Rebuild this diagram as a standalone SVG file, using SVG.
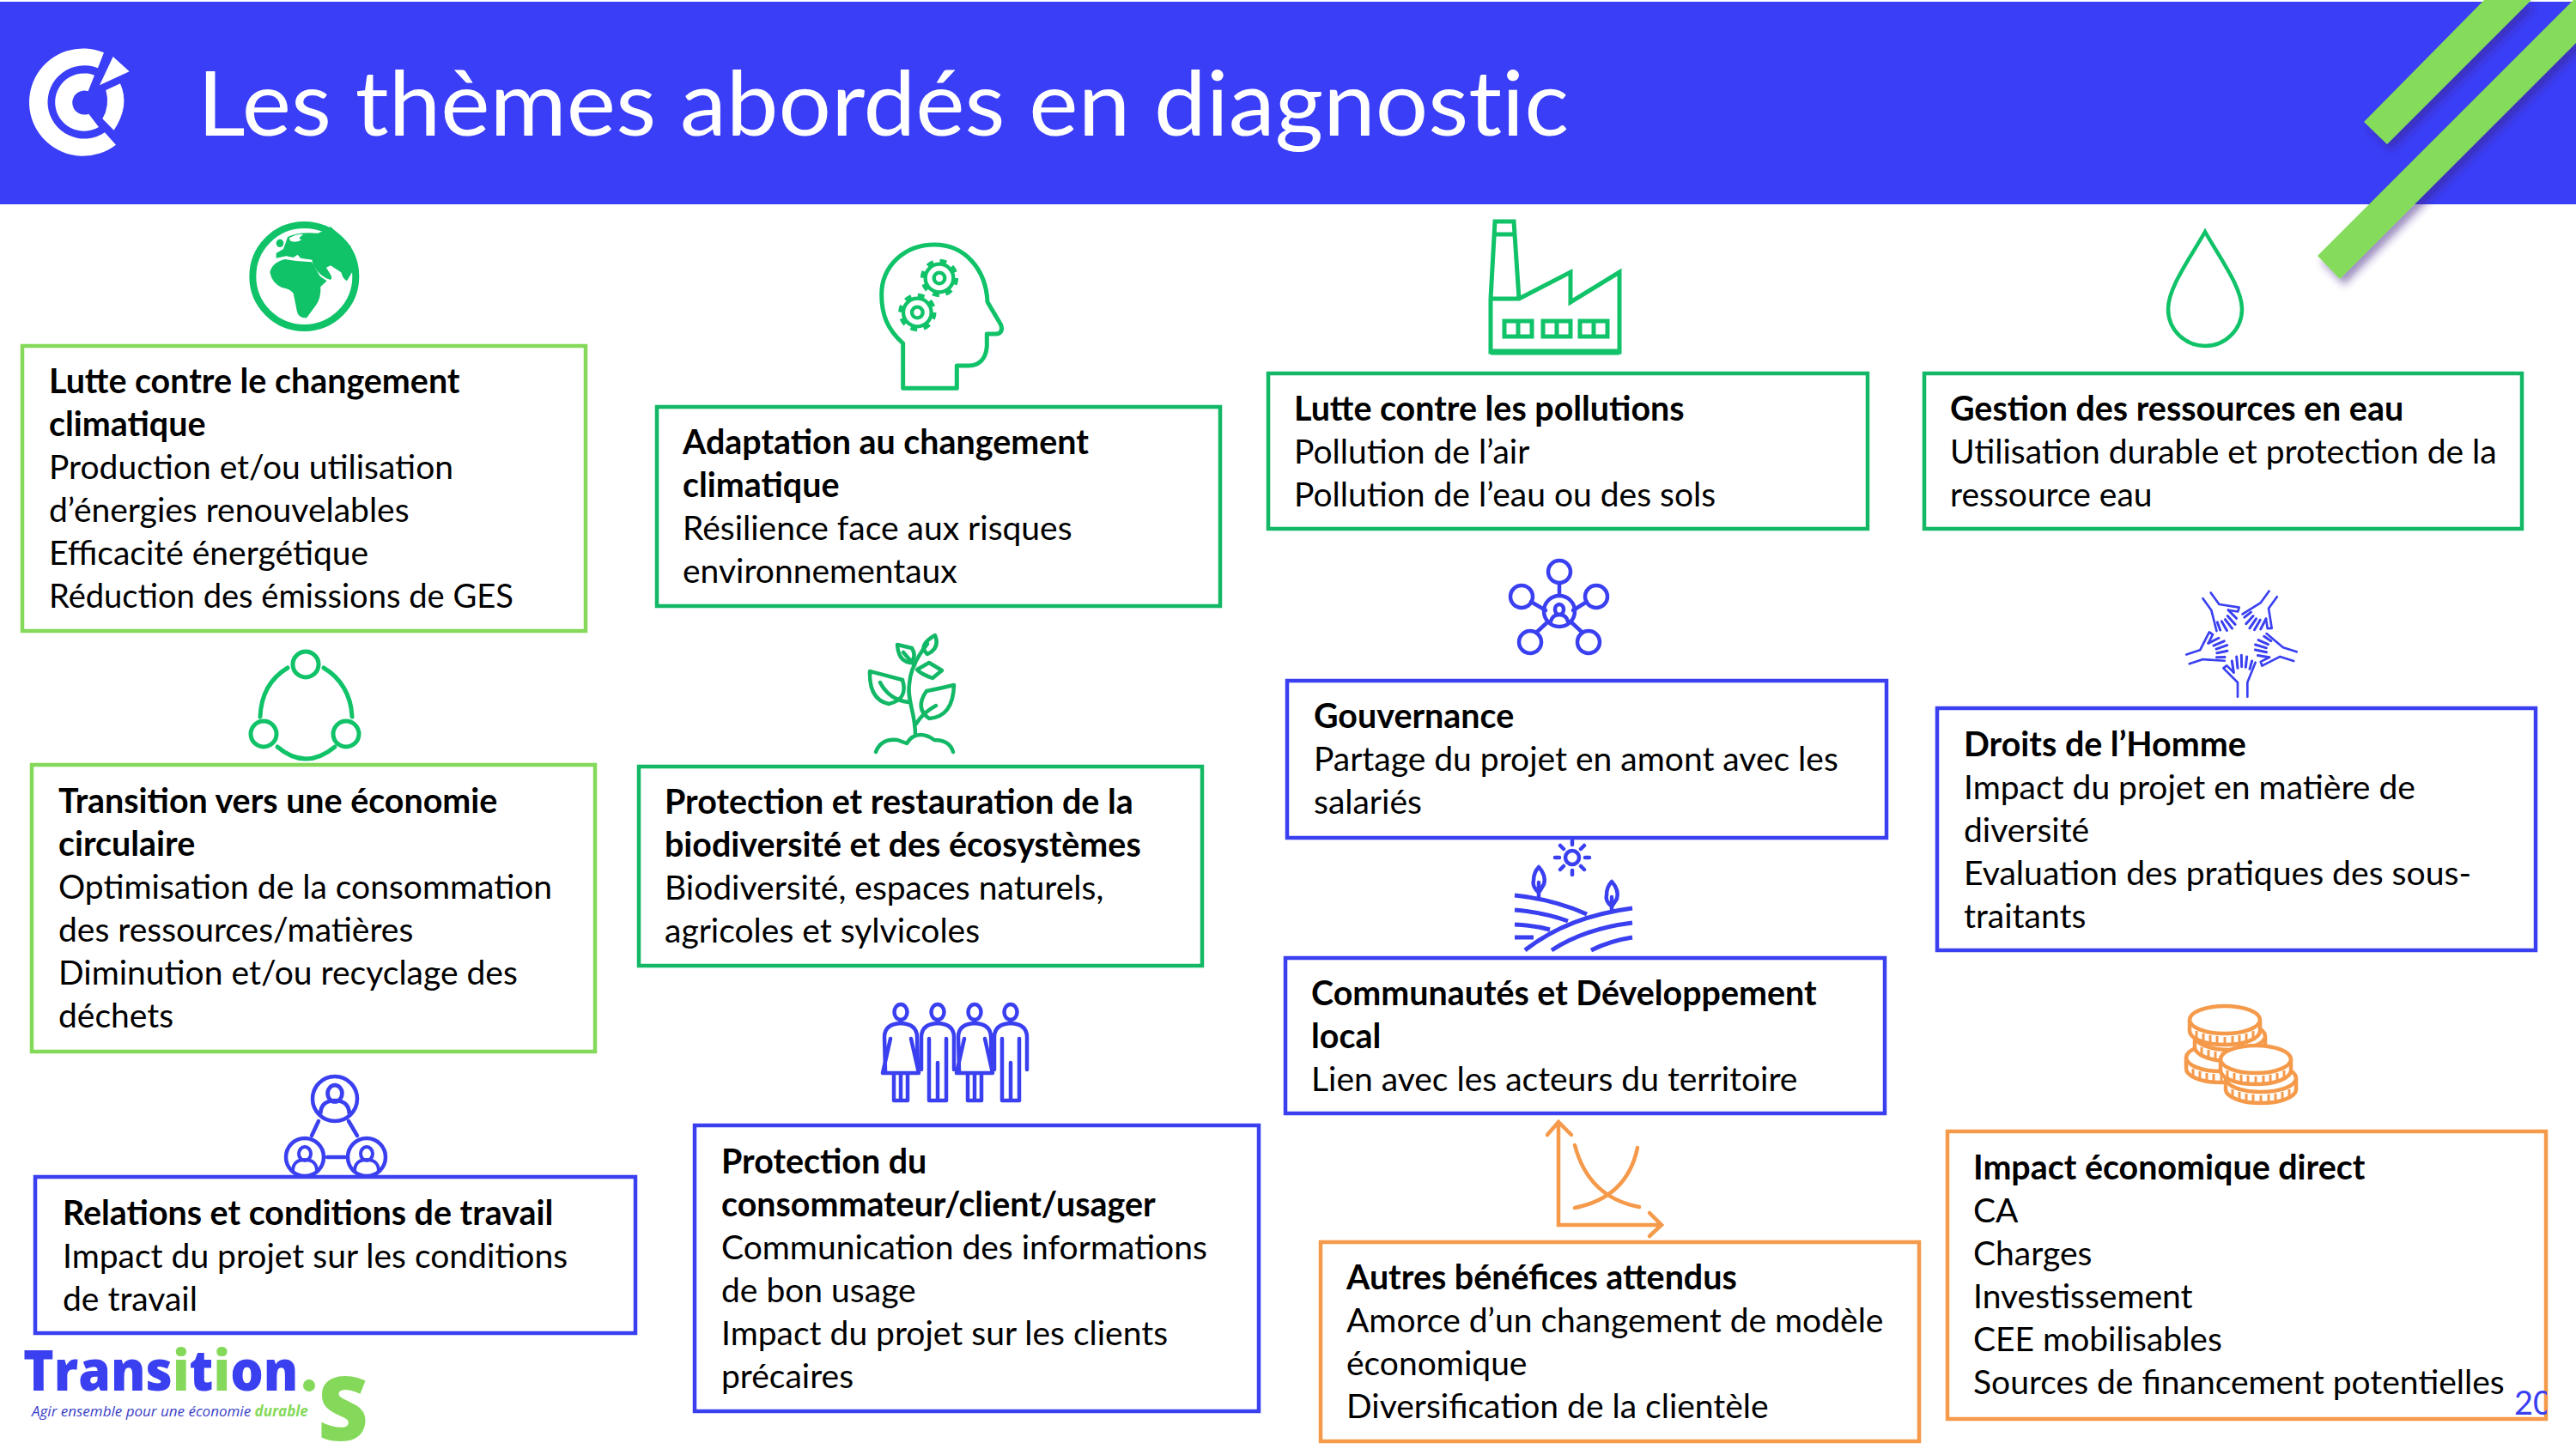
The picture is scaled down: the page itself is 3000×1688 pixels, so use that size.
<svg xmlns="http://www.w3.org/2000/svg" xmlns:xlink="http://www.w3.org/1999/xlink" width="3000" height="1688" viewBox="0 0 3000 1688">
<style>
text{font-family:"Lato","Liberation Sans",sans-serif;fill:#000}
.tx{font-size:39px;transform:translateY(1.5px)}
.b{font-weight:700;font-size:39.4px}
.box{fill:none;stroke-width:4.5}
.lg{stroke:#85D95A}.dg{stroke:#12B866}.bl{stroke:#3A40F0}.or{stroke:#F59A4A}
.ig{fill:none;stroke:#10C268;stroke-width:5;stroke-linecap:round;stroke-linejoin:round}
.ib{fill:none;stroke:#3A40F0;stroke-width:4.5;stroke-linecap:round;stroke-linejoin:round}
.io{fill:#fff;stroke:#F59A4A;stroke-width:4.5;stroke-linejoin:round}
</style>
<defs>
<filter id="sh" x="-20%" y="-20%" width="140%" height="140%"><feDropShadow dx="5" dy="7" stdDeviation="5" flood-color="#3a1a80" flood-opacity=".5"/></filter>
<clipPath id="numclip"><rect x="2900" y="1600" width="66" height="70"/></clipPath>
<g id="gear" fill="none" stroke="#10C268">
<circle r="19" stroke-width="13"/>
<circle r="49" stroke-width="13"/>
<circle r="59" stroke-width="15" stroke-dasharray="23.3 23"/>
</g>
<g id="coin">
<path class="io" d="M-41,0 V13 A41,16 0 0 0 41,13 V0"/>
<path d="M-33,13 v11 M-25,16 v12 M-17,18 v11 M-9,19 v11 M0,20 v11 M9,19 v11 M17,18 v11 M25,16 v12 M33,13 v11" fill="none" stroke="#F59A4A" stroke-width="3"/>
<ellipse class="io" rx="41" ry="16"/>
</g>
<g id="pers" fill="none" stroke="#3A40F0" stroke-width="4">
<ellipse cx="0" cy="-6" rx="7" ry="8"/>
<path d="M-14,14 C-14,4 -7,1 0,1 C7,1 14,4 14,14"/>
</g>
<g id="woman" class="ib">
<ellipse cx="0" cy="-59" rx="7.5" ry="9"/>
<path d="M-18,10 L-19,-30 Q-19,-45 0,-46 Q19,-45 19,-30 L20,8 M-12,-28 L-21,12 H21 L12,-28 M-8,12 V44 H8 V12 M0,12 V44"/>
</g>
<g id="man" class="ib">
<ellipse cx="0" cy="-59" rx="7.5" ry="9"/>
<path d="M-19,8 V-30 Q-19,-45 0,-46 Q19,-45 19,-30 V8 M-10,-28 V44 H10 V-28 M0,0 V44"/>
</g>
<g id="hand" fill="none" stroke="#3A40F0" stroke-width="8" stroke-linejoin="round" stroke-linecap="round">
<path d="M228,425 V375 L178,325 L190,316 L214,340 M262,425 V375 L290,305"/>
<path stroke-width="9" d="M214,340 L208,300 M228,325 L224,285 M242,320 L241,280 M256,322 L260,285 M270,328 L278,300"/>
</g>
</defs>

<g id="header">
<rect x="0" y="2" width="3000" height="236" fill="#3A3EF6"/>
<g id="cci-logo" transform="translate(20,40) scale(.3333)" fill="#fff">
<path d="M303,64 A188,188 0 1 0 345,386 L306,343 A128,128 0 1 1 282,118 Z"/>
<path d="M270,143 A101,101 0 1 0 285,324 L250,278 A42,42 0 1 1 248,199 Z"/>
<path d="M310,195 L360,172 Q395,250 338,335 L298,295 Q325,250 310,195 Z"/>
<path d="M335,78 L392,130 L288,178 Z"/>
</g>
<text x="230" y="158" font-size="104" style="font-weight:400;fill:#fff;font-variant-ligatures:none" textLength="1597" lengthAdjust="spacingAndGlyphs">Les thèmes abordés en diagnostic</text>
</g>
<g id="stripes" fill="#85DB5A" filter="url(#sh)">
<polygon points="2753,142 2780,168 2948,0 2893,0"/>
<polygon points="2699,298 2725,325 3000,50 3000,0 2997,0"/>
</g>

<g id="n-lutte-climat">
<g transform="translate(270,240) scale(.3333)">
<circle cx="253" cy="246" r="180" fill="none" stroke="#10C268" stroke-width="24"/>
<path fill="#10C268" d="M133,232 Q140,198 185,186 L225,192 L280,196 Q298,230 308,245 L332,262 L310,282 Q312,320 295,345 L262,390 Q235,395 228,370 L215,305 Q205,290 175,285 Q140,270 133,232 Z"/>
<path fill="#10C268" d="M155,165 L180,150 Q190,125 195,108 Q230,90 300,95 L318,88 L345,72 L415,140 L432,228 L420,232 L402,262 Q388,255 382,232 L345,208 L330,215 L345,240 Q352,250 345,258 Q310,250 285,208 L280,188 L240,182 L230,170 L215,180 L190,175 L155,182 Z"/>
<path fill="#fff" d="M200,112 Q230,95 250,100 Q225,115 245,118 Q225,130 205,122 Z"/>
<ellipse cx="168" cy="130" rx="13" ry="14" fill="#10C268"/>
</g>
<rect class="box lg" x="26" y="403" width="656" height="332"/>
<text class="tx"><tspan class="b" x="57" y="456">Lutte contre le changement</tspan><tspan class="b" x="57" y="506">climatique</tspan><tspan x="57" y="556">Production et/ou utilisation</tspan><tspan x="57" y="606">d’énergies renouvelables</tspan><tspan x="57" y="656">Efficacité énergétique</tspan><tspan x="57" y="706" textLength="541" lengthAdjust="spacingAndGlyphs">Réduction des émissions de GES</tspan></text>
</g>

<g id="n-circulaire">
<g class="ig">
<ellipse cx="356" cy="774" rx="15" ry="15"/><ellipse cx="307" cy="855" rx="15" ry="15"/><ellipse cx="403" cy="855" rx="15" ry="15"/>
<path d="M335,778 C315,790 304,810 303,835 M377,778 C397,790 409,810 410,835 M323,870 Q356,898 390,870"/>
</g>
<rect class="box lg" x="37" y="891" width="656" height="334"/>
<text class="tx"><tspan class="b" x="68" y="945">Transition vers une économie</tspan><tspan class="b" x="68" y="995">circulaire</tspan><tspan x="68" y="1045">Optimisation de la consommation</tspan><tspan x="68" y="1095">des ressources/matières</tspan><tspan x="68" y="1145">Diminution et/ou recyclage des</tspan><tspan x="68" y="1195">déchets</tspan></text>
</g>

<g id="n-relations">
<g class="ib">
<circle cx="390" cy="1280" r="26"/><circle cx="355" cy="1348" r="22"/><circle cx="427" cy="1348" r="22"/>
<path d="M371,1306 L363,1323 M406,1306 L416,1323 M381,1348 H402"/>
</g>
<use href="#pers" transform="translate(390,1281) scale(1.2)"/>
<use href="#pers" transform="translate(355,1350)"/>
<use href="#pers" transform="translate(427,1350)"/>
<rect class="box bl" x="41" y="1371" width="699" height="182"/>
<text class="tx"><tspan class="b" x="73" y="1425">Relations et conditions de travail</tspan><tspan x="73" y="1475">Impact du projet sur les conditions</tspan><tspan x="73" y="1525">de travail</tspan></text>
</g>

<g id="n-adaptation">
<g transform="translate(1000,270) scale(.3333)">
<path fill="none" stroke="#10C268" stroke-width="15" stroke-linejoin="round" d="M155,547 V390 C100,340 80,290 80,220 C80,120 160,45 265,45 C370,45 445,130 450,245 L497,325 C505,345 495,357 480,357 H448 V400 C445,445 420,468 385,468 H343 V547 Z"/>
<use href="#gear" transform="translate(282,162)"/>
<use href="#gear" transform="translate(205,282)"/>
</g>
<rect class="box dg" x="765" y="474" width="656" height="232"/>
<text class="tx"><tspan class="b" x="795" y="527">Adaptation au changement</tspan><tspan class="b" x="795" y="577">climatique</tspan><tspan x="795" y="627">Résilience face aux risques</tspan><tspan x="795" y="677">environnementaux</tspan></text>
</g>

<g id="n-biodiversite">
<g fill="none" stroke="#12B866" stroke-width="4.5" stroke-linecap="round" stroke-linejoin="round">
<path d="M1020,876 Q1026,860 1045,862 L1056,866 Q1062,856 1072,856 Q1080,856 1088,862 Q1106,862 1110,876"/>
<path d="M1066,856 C1066,830 1056,815 1059,797 C1060,780 1068,765 1080,750"/>
<path d="M1013,782 L1051,792 Q1058,815 1035,820 Q1012,815 1013,782 Z M1025,795 Q1035,815 1058,818"/>
<path d="M1111,798 Q1110,835 1082,837 Q1065,825 1079,805 Q1095,802 1111,798 Z M1067,843 Q1075,830 1090,822"/>
<path d="M1089,740 Q1095,755 1080,762 Q1068,752 1089,740 Z"/>
<path d="M1045,751 L1062,755 Q1068,765 1060,772 Q1046,770 1045,751 Z M1052,760 L1065,775"/>
<path d="M1082,772 L1097,781 L1086,790 Q1072,785 1068,780 Z"/>
</g>
<rect class="box dg" x="744" y="893" width="656" height="232"/>
<text class="tx"><tspan class="b" x="774" y="946">Protection et restauration de la</tspan><tspan class="b" x="774" y="996">biodiversité et des écosystèmes</tspan><tspan x="774" y="1046">Biodiversité, espaces naturels,</tspan><tspan x="774" y="1096">agricoles et sylvicoles</tspan></text>
</g>

<g id="n-consommateur">
<use href="#woman" transform="translate(1049,1238)"/>
<use href="#man" transform="translate(1092,1238)"/>
<use href="#woman" transform="translate(1135,1238)"/>
<use href="#man" transform="translate(1177,1238)"/>
<rect class="box bl" x="809" y="1311" width="657" height="333"/>
<text class="tx"><tspan class="b" x="840" y="1365">Protection du</tspan><tspan class="b" x="840" y="1415">consommateur/client/usager</tspan><tspan x="840" y="1465">Communication des informations</tspan><tspan x="840" y="1515">de bon usage</tspan><tspan x="840" y="1565">Impact du projet sur les clients</tspan><tspan x="840" y="1615">précaires</tspan></text>
</g>

<g id="n-pollutions">
<g fill="none" stroke="#10C268" stroke-width="5" stroke-linejoin="miter">
<path d="M1769,348 L1763,258 H1741 L1736,348 M1741,273 H1763 M1736,348 H1769 L1829,317 V352 L1886,317 V410 H1736 V348"/>
<path stroke-width="7" d="M1736,410 H1886"/>
<rect x="1752" y="374" width="32" height="18"/><rect x="1797" y="374" width="32" height="18"/><rect x="1840" y="374" width="32" height="18"/>
<path d="M1768,374 v18 M1813,374 v18 M1856,374 v18"/>
</g>
<rect class="box dg" x="1477" y="435" width="698" height="181"/>
<text class="tx"><tspan class="b" x="1507" y="488">Lutte contre les pollutions</tspan><tspan x="1507" y="538">Pollution de l’air</tspan><tspan x="1507" y="588">Pollution de l’eau ou des sols</tspan></text>
</g>

<g id="n-gouvernance">
<g class="ib">
<circle cx="1816" cy="712" r="18"/>
<circle cx="1816" cy="666" r="13"/><circle cx="1772" cy="695" r="13"/><circle cx="1859" cy="695" r="13"/><circle cx="1782" cy="748" r="13"/><circle cx="1850" cy="748" r="13"/>
<path d="M1816,679 V694 M1783,701 L1800,711 M1848,701 L1832,711 M1789,737 L1803,724 M1843,737 L1829,724"/>
<ellipse cx="1816" cy="710" rx="5" ry="6"/><path d="M1806,724 Q1808,716 1816,716 Q1824,716 1826,724"/>
</g>
<rect class="box bl" x="1499" y="793" width="698" height="183"/>
<text class="tx"><tspan class="b" x="1530" y="846">Gouvernance</tspan><tspan x="1530" y="896">Partage du projet en amont avec les</tspan><tspan x="1530" y="946">salariés</tspan></text>
</g>

<g id="n-communautes">
<g class="ib">
<circle cx="1831" cy="999" r="8"/>
<path d="M1831,979 v5 M1831,1014 v5 M1811,999 h5 M1846,999 h5 M1817,985 l4,4 M1845,985 l-4,4 M1817,1013 l4,-4 M1845,1013 l-4,-4"/>
<path d="M1792,1010 Q1801,1020 1798,1030 Q1792,1040 1792,1040 Q1784,1032 1786,1026 Q1786,1016 1792,1010 Z M1792,1028 V1046"/>
<path d="M1877,1027 Q1886,1037 1883,1047 Q1877,1056 1877,1056 Q1869,1049 1871,1043 Q1871,1033 1877,1027 Z M1877,1045 V1062"/>
<path stroke-linecap="butt" stroke-width="5" d="M1764,1043 Q1810,1048 1848,1065 M1764,1060 Q1798,1063 1826,1073 M1764,1077 Q1786,1078 1805,1083 M1764,1092 H1786 M1776,1107 Q1825,1068 1901,1058 M1807,1107 Q1845,1082 1901,1075 M1853,1107 Q1875,1096 1901,1092"/>
</g>
<rect class="box bl" x="1497" y="1116" width="698" height="181"/>
<text class="tx"><tspan class="b" x="1527" y="1169">Communautés et Développement</tspan><tspan class="b" x="1527" y="1219">local</tspan><tspan x="1527" y="1269">Lien avec les acteurs du territoire</tspan></text>
</g>

<g id="n-benefices">
<g fill="none" stroke="#F59A4A" stroke-width="4.5" stroke-linecap="round">
<path d="M1802,1322 L1815,1307 L1830,1322 M1815,1307 V1427 H1935 M1921,1413 L1935,1427 L1921,1440"/>
<path d="M1834,1334 Q1850,1395 1909,1406 M1907,1337 Q1895,1395 1834,1407"/>
</g>
<rect class="box or" x="1538" y="1447" width="697" height="232"/>
<text class="tx"><tspan class="b" x="1568" y="1500">Autres bénéfices attendus</tspan><tspan x="1568" y="1550">Amorce d’un changement de modèle</tspan><tspan x="1568" y="1600">économique</tspan><tspan x="1568" y="1650">Diversification de la clientèle</tspan></text>
</g>

<g id="n-eau">
<path fill="none" stroke="#10C268" stroke-width="4.5" d="M2568,270 C2585,300 2611,335 2611,360 A43,43 0 0 1 2525,360 C2525,335 2551,300 2568,270 Z"/>
<rect class="box dg" x="2241" y="435" width="696" height="181"/>
<text class="tx"><tspan class="b" x="2271" y="488">Gestion des ressources en eau</tspan><tspan x="2271" y="538">Utilisation durable et protection de la</tspan><tspan x="2271" y="588">ressource eau</tspan></text>
</g>

<g id="n-droits">
<g transform="translate(2530,670) scale(.3333)">
<use href="#hand"/>
<use href="#hand" transform="rotate(72 240 228)"/>
<use href="#hand" transform="rotate(144 240 228)"/>
<use href="#hand" transform="rotate(216 240 228)"/>
<use href="#hand" transform="rotate(288 240 228)"/>
</g>
<rect class="box bl" x="2256" y="825" width="697" height="282"/>
<text class="tx"><tspan class="b" x="2287" y="879">Droits de l’Homme</tspan><tspan x="2287" y="929">Impact du projet en matière de</tspan><tspan x="2287" y="979">diversité</tspan><tspan x="2287" y="1029" textLength="591" lengthAdjust="spacingAndGlyphs">Evaluation des pratiques des sous-</tspan><tspan x="2287" y="1079">traitants</tspan></text>
</g>

<g id="n-impact">
<use href="#coin" transform="translate(2587,1232)"/>
<use href="#coin" transform="translate(2597,1207)"/>
<use href="#coin" transform="translate(2591,1188)"/>
<use href="#coin" transform="translate(2633,1256)"/>
<use href="#coin" transform="translate(2627,1234)"/>
<rect class="box or" x="2268" y="1318" width="697" height="335"/>
<text class="tx"><tspan class="b" x="2298" y="1372">Impact économique direct</tspan><tspan x="2298" y="1422">CA</tspan><tspan x="2298" y="1472">Charges</tspan><tspan x="2298" y="1522">Investissement</tspan><tspan x="2298" y="1572">CEE mobilisables</tspan><tspan x="2298" y="1622">Sources de financement potentielles</tspan></text>
</g>

<g id="page-number" clip-path="url(#numclip)">
<text x="2928" y="1648" font-size="38" style="fill:#3A40F0">20</text>
</g>

<g id="transition-logo">
<text transform="translate(27,1620) scale(.918,1)" font-size="66" style="font-family:'Open Sans','Liberation Sans',sans-serif;font-weight:800;fill:#3A40F0">Trans<tspan style="fill:#85D95A">i</tspan>t<tspan style="fill:#85D95A">i</tspan>on</text>
<circle cx="360" cy="1614" r="7" fill="#85D95A"/>
<text x="370" y="1678" font-size="102" style="font-family:'Open Sans','Liberation Sans',sans-serif;font-weight:800;fill:#85D95A">S</text>
<text x="37" y="1650" font-size="17" style="font-family:'Open Sans','Liberation Sans',sans-serif;font-style:italic;fill:#3A40C8">Agir ensemble pour une économie <tspan style="font-weight:700;fill:#85D95A">durable</tspan></text>
</g>
</svg>
